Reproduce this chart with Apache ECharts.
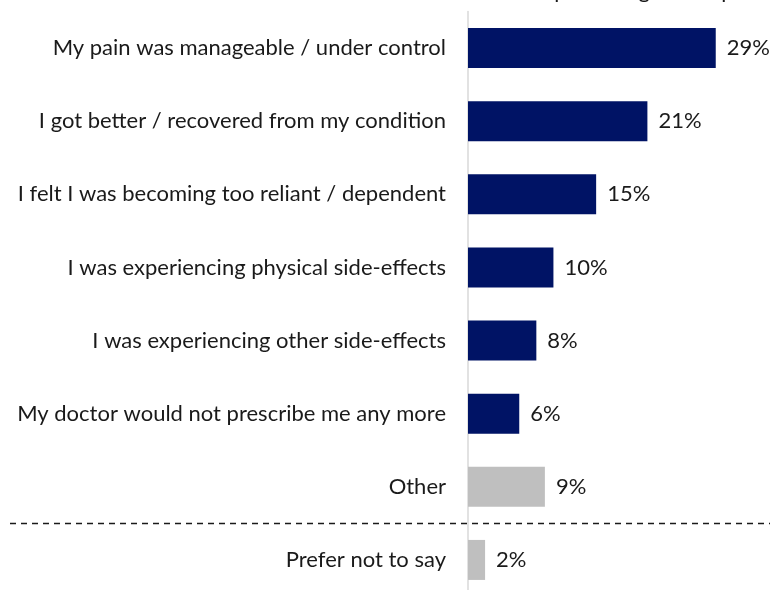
<!DOCTYPE html>
<html>
<head>
<meta charset="utf-8">
<script src="https://cdn.jsdelivr.net/npm/echarts@6/dist/echarts.min.js"></script>
<style>
  html, body { margin: 0; padding: 0; background: #ffffff; overflow: hidden; }
  #chart { width: 770px; height: 600px; }
</style>
</head>
<body>
<div id="chart"></div>
<script>
// Reasons for stopping, top to bottom
const categories = [
  'My pain was manageable / under control',
  'I got better / recovered from my condition',
  'I felt I was becoming too reliant / dependent',
  'I was experiencing physical side-effects',
  'I was experiencing other side-effects',
  'My doctor would not prescribe me any more',
  'Other',
  'Prefer not to say'
];
// Share of respondents (%)
const values = [29, 21, 15, 10, 8, 6, 9, 2];
// Which rows are drawn in the muted grey
const mutedRows = ['Other', 'Prefer not to say'];
const headerText = 'Shown as a percentage of respondents';

const NAVY = '#001365';
const GREY = '#bfbfbf';
const FONT = 'Lato';

const chart = echarts.init(document.getElementById('chart'), null, { renderer: 'canvas' });

const option = {
  animation: false,
  backgroundColor: '#ffffff',
  grid: { left: 468, width: 299, top: 11.5, height: 585, containLabel: false },
  xAxis: {
    type: 'value',
    min: 0,
    max: 35,
    show: false
  },
  yAxis: {
    type: 'category',
    data: categories,
    inverse: true,
    axisLine: { show: true, lineStyle: { color: '#d9d9d9', width: 1.5 } },
    axisTick: { show: false },
    axisLabel: {
      margin: 22,
      fontFamily: FONT,
      fontSize: 22,
      color: '#1a1a1a'
    }
  },
  series: [{
    type: 'bar',
    barWidth: 40,
    data: values.map((v, i) => ({
      value: v,
      itemStyle: { color: mutedRows.includes(categories[i]) ? GREY : NAVY }
    })),
    label: {
      show: true,
      position: 'right',
      distance: 11,
      formatter: p => p.value + '%',
      fontFamily: FONT,
      fontSize: 22,
      color: '#1a1a1a'
    }
  }]
};

chart.setOption(option);

// Dashed separator between the answer options and "Prefer not to say",
// placed on the boundary between the last two category bands
const yOther = chart.convertToPixel({ yAxisIndex: 0 }, categories[categories.length - 2]);
const yPrefer = chart.convertToPixel({ yAxisIndex: 0 }, categories[categories.length - 1]);
const ySep = Math.round((yOther + yPrefer) / 2) + 0.5;

chart.setOption({
  graphic: [
    {
      type: 'line',
      shape: { x1: 10, y1: ySep, x2: 770, y2: ySep },
      style: { stroke: '#1a1a1a', lineWidth: 1.5, lineDash: [6, 5] },
      z: 10
    },
    {
      type: 'text',
      left: 440,
      top: -20,
      style: {
        text: headerText,
        font: '22px "' + FONT + '"',
        fill: '#1a1a1a'
      }
    }
  ]
});
</script>
</body>
</html>
